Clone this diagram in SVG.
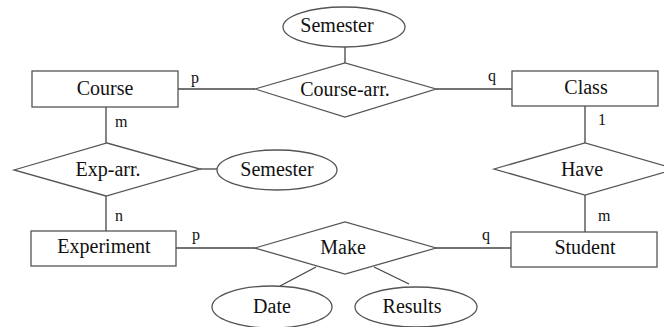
<svg xmlns="http://www.w3.org/2000/svg" width="664" height="327" viewBox="0 0 664 327">
<style>
.s{fill:#fff;stroke:#555;stroke-width:1.3}
.l{stroke:#444;stroke-width:1.3;fill:none}
.t{font-family:'Liberation Serif','Times New Roman','DejaVu Serif',serif;font-size:20px;fill:#111;text-anchor:middle}
.c{font-family:'Liberation Serif','Times New Roman','DejaVu Serif',serif;font-size:16px;fill:#111}
</style>
<rect width="664" height="327" fill="#fff"/>
<g id="connectors">
<line class="l" x1="178" y1="89" x2="255" y2="89"/>
<line class="l" x1="436" y1="89" x2="512" y2="89"/>
<line class="l" x1="345" y1="47" x2="345" y2="63"/>
<line class="l" x1="106" y1="107" x2="106" y2="143"/>
<line class="l" x1="106" y1="196" x2="106" y2="231"/>
<line class="l" x1="200" y1="169" x2="217" y2="169"/>
<line class="l" x1="176" y1="248" x2="255" y2="248"/>
<line class="l" x1="436" y1="248" x2="511" y2="248"/>
<line class="l" x1="585" y1="106" x2="585" y2="143"/>
<line class="l" x1="585" y1="195" x2="585" y2="232"/>
<line class="l" x1="316" y1="267" x2="280" y2="286"/>
<line class="l" x1="374" y1="267" x2="409" y2="284"/>
<text class="c" x="191" y="83">p</text>
<text class="c" x="488" y="81">q</text>
<text class="c" x="115" y="127">m</text>
<text class="c" x="598" y="125">1</text>
<text class="c" x="115" y="221">n</text>
<text class="c" x="192" y="240">p</text>
<text class="c" x="482" y="240">q</text>
<text class="c" x="598" y="221">m</text>
</g>
<g id="course"><rect class="s" x="32" y="71" width="146" height="36"/><text class="t" x="105" y="95">Course</text></g>
<g id="class"><rect class="s" x="512" y="71" width="146" height="35"/><text class="t" x="586" y="94">Class</text></g>
<g id="course-arr"><polygon class="s" points="255,89 345,63 436,89 345,117"/><text class="t" x="345" y="96">Course-arr.</text></g>
<g id="semester1"><ellipse class="s" cx="344" cy="27" rx="61" ry="20"/><text class="t" x="337" y="32">Semester</text></g>
<g id="exp-arr"><polygon class="s" points="14,170 107,143 200,169 106,196"/><text class="t" x="108" y="176">Exp-arr.</text></g>
<g id="semester2"><ellipse class="s" cx="277" cy="170" rx="60" ry="20"/><text class="t" x="277" y="176">Semester</text></g>
<g id="have"><polygon class="s" points="494,169 585,143 676,169 585,195"/><text class="t" x="582" y="176">Have</text></g>
<g id="experiment"><rect class="s" x="31" y="231" width="145" height="35"/><text class="t" x="104" y="253">Experiment</text></g>
<g id="make"><polygon class="s" points="255,248 345,222 436,248 345,274"/><text class="t" x="343" y="254">Make</text></g>
<g id="student"><rect class="s" x="511" y="232" width="146" height="35"/><text class="t" x="585" y="254">Student</text></g>
<g id="date"><ellipse class="s" cx="272" cy="307" rx="60" ry="21"/><text class="t" x="272" y="313">Date</text></g>
<g id="results"><ellipse class="s" cx="416" cy="307" rx="61" ry="20"/><text class="t" x="412" y="313">Results</text></g>
</svg>
